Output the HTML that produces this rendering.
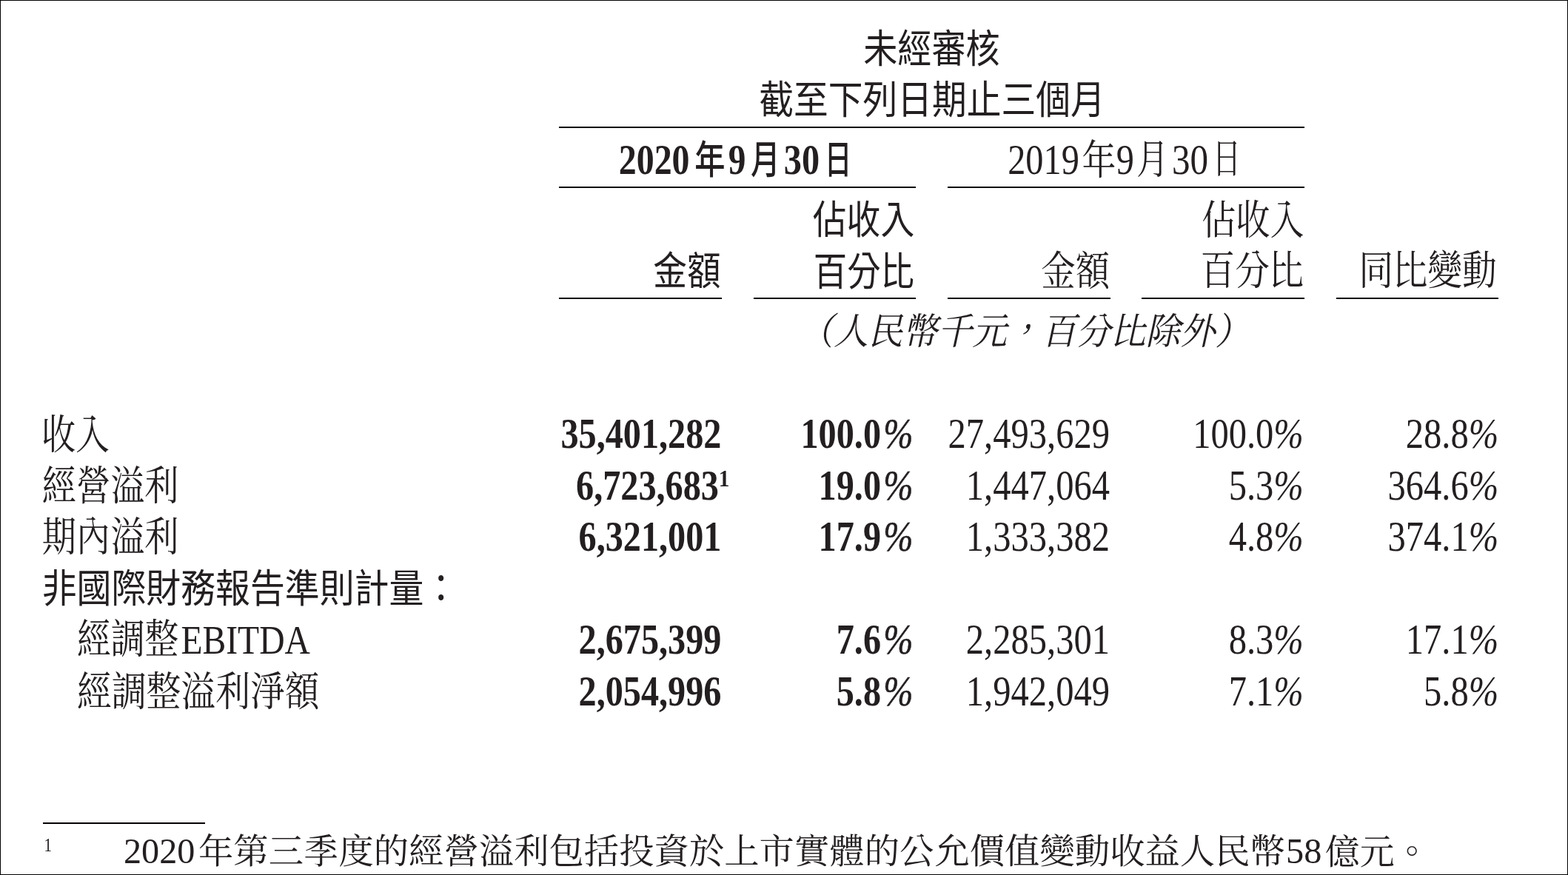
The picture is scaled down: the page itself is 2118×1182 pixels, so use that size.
<!DOCTYPE html>
<html lang="zh-Hant"><head><meta charset="utf-8"><title>未經審核 截至下列日期止三個月</title>
<style>
html,body{margin:0;padding:0;background:#fff;width:2118px;height:1182px;overflow:hidden}
svg{display:block}
text{fill:#231f20}
</style></head><body>
<svg width="2118" height="1182" viewBox="0 0 2118 1182">
<rect x="0" y="0" width="2118" height="1182" fill="#fff"/>
<rect x="755" y="171" width="1007" height="2" fill="#050304"/>
<rect x="755" y="252" width="482" height="2" fill="#050304"/>
<rect x="1280" y="252" width="482" height="2" fill="#050304"/>
<rect x="755" y="402" width="220" height="2" fill="#050304"/>
<rect x="1018" y="402" width="219" height="2" fill="#050304"/>
<rect x="1280" y="402" width="220" height="2" fill="#050304"/>
<rect x="1542" y="402" width="220" height="2" fill="#050304"/>
<rect x="1805" y="402" width="219" height="2" fill="#050304"/>
<rect x="58" y="1111" width="219" height="2" fill="#050304"/>
<text transform="translate(1166.26,84.85) scale(0.8702,1)" font-family="'Liberation Sans','Noto Sans CJK TC','Noto Sans CJK SC',sans-serif" font-size="53" font-weight="400">未經審核</text>
<text transform="translate(1025.24,154.00) scale(0.8822,1)" font-family="'Liberation Sans','Noto Sans CJK TC','Noto Sans CJK SC',sans-serif" font-size="53" font-weight="400">截至下列日期止三個月</text>
<text transform="translate(835.73,234.90) scale(0.8333,1)" font-family="'Liberation Serif',serif" font-size="57.5" font-weight="bold">2020</text>
<text transform="translate(938.24,235.15) scale(0.7796,1)" font-family="'Liberation Sans','Noto Sans CJK TC','Noto Sans CJK SC',sans-serif" font-size="53" font-weight="500">年</text>
<text transform="translate(983.65,234.90) scale(0.8240,1)" font-family="'Liberation Serif',serif" font-size="57.5" font-weight="bold">9</text>
<text transform="translate(1014.00,235.35) scale(0.7476,1)" font-family="'Liberation Sans','Noto Sans CJK TC','Noto Sans CJK SC',sans-serif" font-size="53" font-weight="500">月</text>
<text transform="translate(1058.82,234.90) scale(0.8396,1)" font-family="'Liberation Serif',serif" font-size="57.5" font-weight="bold">30</text>
<text transform="translate(1113.78,234.85) scale(0.6917,1)" font-family="'Liberation Sans','Noto Sans CJK TC','Noto Sans CJK SC',sans-serif" font-size="53" font-weight="500">日</text>
<text transform="translate(1361.18,234.90) scale(0.8602,1)" font-family="'Liberation Serif',serif" font-size="56.2" font-weight="normal">2019</text>
<text transform="translate(1461.53,235.30) scale(0.8340,1)" font-family="'Liberation Serif','Noto Serif CJK TC','Noto Serif CJK SC',serif" font-size="55" font-weight="normal">年</text>
<text transform="translate(1507.78,234.90) scale(0.8583,1)" font-family="'Liberation Serif',serif" font-size="56.2" font-weight="normal">9</text>
<text transform="translate(1535.35,234.40) scale(0.7833,1)" font-family="'Liberation Serif','Noto Serif CJK TC','Noto Serif CJK SC',serif" font-size="55" font-weight="normal">月</text>
<text transform="translate(1582.88,234.90) scale(0.8745,1)" font-family="'Liberation Serif',serif" font-size="56.2" font-weight="normal">30</text>
<text transform="translate(1637.63,232.95) scale(0.6971,1)" font-family="'Liberation Serif','Noto Serif CJK TC','Noto Serif CJK SC',serif" font-size="55" font-weight="normal">日</text>
<text transform="translate(882.28,385.00) scale(0.8618,1)" font-family="'Liberation Sans','Noto Sans CJK TC','Noto Sans CJK SC',sans-serif" font-size="53" font-weight="400">金額</text>
<text transform="translate(1097.84,315.65) scale(0.8641,1)" font-family="'Liberation Sans','Noto Sans CJK TC','Noto Sans CJK SC',sans-serif" font-size="53" font-weight="400">佔收入</text>
<text transform="translate(1098.83,385.80) scale(0.8565,1)" font-family="'Liberation Sans','Noto Sans CJK TC','Noto Sans CJK SC',sans-serif" font-size="53" font-weight="400">百分比</text>
<text transform="translate(1406.31,384.80) scale(0.8457,1)" font-family="'Liberation Serif','Noto Serif CJK TC','Noto Serif CJK SC',serif" font-size="55" font-weight="normal">金額</text>
<text transform="translate(1623.22,315.50) scale(0.8391,1)" font-family="'Liberation Serif','Noto Serif CJK TC','Noto Serif CJK SC',serif" font-size="55" font-weight="normal">佔收入</text>
<text transform="translate(1621.62,384.35) scale(0.8459,1)" font-family="'Liberation Serif','Noto Serif CJK TC','Noto Serif CJK SC',serif" font-size="55" font-weight="normal">百分比</text>
<text transform="translate(1835.42,384.40) scale(0.8467,1)" font-family="'Liberation Serif','Noto Serif CJK TC','Noto Serif CJK SC',serif" font-size="55" font-weight="normal">同比變動</text>
<text transform="translate(1079.07,464.75) scale(0.9370,1) skewX(-13)" font-family="'Liberation Serif','Noto Serif CJK TC','Noto Serif CJK SC',serif" font-size="50" font-weight="normal">（人民幣千元，百分比除外）</text>
<text transform="translate(55.95,606.30) scale(0.8375,1)" font-family="'Liberation Serif','Noto Serif CJK TC','Noto Serif CJK SC',serif" font-size="55" font-weight="normal">收入</text>
<text transform="translate(56.82,675.20) scale(0.8395,1)" font-family="'Liberation Serif','Noto Serif CJK TC','Noto Serif CJK SC',serif" font-size="55" font-weight="normal">經營溢利</text>
<text transform="translate(56.82,743.85) scale(0.8395,1)" font-family="'Liberation Serif','Noto Serif CJK TC','Noto Serif CJK SC',serif" font-size="55" font-weight="normal">期內溢利</text>
<text transform="translate(56.75,813.65) scale(0.8846,1)" font-family="'Liberation Sans','Noto Sans CJK TC','Noto Sans CJK SC',sans-serif" font-size="53" font-weight="400">非國際財務報告準則計量：</text>
<text transform="translate(103.94,882.35) scale(0.8323,1)" font-family="'Liberation Serif','Noto Serif CJK TC','Noto Serif CJK SC',serif" font-size="55" font-weight="normal">經調整</text>
<text transform="translate(244.38,883.00) scale(0.8582,1)" font-family="'Liberation Serif',serif" font-size="55.5" font-weight="normal">EBITDA</text>
<text transform="translate(103.90,952.70) scale(0.8513,1)" font-family="'Liberation Serif','Noto Serif CJK TC','Noto Serif CJK SC',serif" font-size="55" font-weight="normal">經調整溢利淨額</text>
<text transform="translate(970.85,656.70) scale(0.9182,1)" font-family="'Liberation Serif',serif" font-size="32" font-weight="bold">1</text>
<text transform="translate(59.61,1150.20) scale(0.8444,1)" font-family="'Liberation Serif',serif" font-size="25" font-weight="normal">1</text>
<text transform="translate(167.01,1166.30) scale(0.9946,1)" font-family="'Liberation Serif',serif" font-size="48.5" font-weight="normal">2020</text>
<text transform="translate(267.98,1166.25) scale(1.0077,1)" font-family="'Liberation Serif','Noto Serif CJK TC','Noto Serif CJK SC',serif" font-size="47" font-weight="normal">年第三季度的經營溢利包括投資於上市實體的公允價值變動收益人民幣</text>
<text transform="translate(1737.11,1166.30) scale(0.9977,1)" font-family="'Liberation Serif',serif" font-size="48.5" font-weight="normal">58</text>
<text transform="translate(1789.90,1166.75) scale(0.9976,1)" font-family="'Liberation Serif','Noto Serif CJK TC','Noto Serif CJK SC',serif" font-size="47" font-weight="normal">億元。</text>
<text transform="translate(974.38,605.00) scale(0.8388,1)" text-anchor="end" font-family="'Liberation Serif',serif" font-size="57.5" font-weight="bold">35,401,282</text>
<text transform="translate(970.88,674.60) scale(0.8388,1)" text-anchor="end" font-family="'Liberation Serif',serif" font-size="57.5" font-weight="bold">6,723,683</text>
<text transform="translate(974.38,744.20) scale(0.8388,1)" text-anchor="end" font-family="'Liberation Serif',serif" font-size="57.5" font-weight="bold">6,321,001</text>
<text transform="translate(974.38,883.40) scale(0.8388,1)" text-anchor="end" font-family="'Liberation Serif',serif" font-size="57.5" font-weight="bold">2,675,399</text>
<text transform="translate(974.38,953.00) scale(0.8388,1)" text-anchor="end" font-family="'Liberation Serif',serif" font-size="57.5" font-weight="bold">2,054,996</text>
<text transform="translate(1233.52,605.00) scale(0.8388,1)" text-anchor="end" font-family="'Liberation Serif',serif" font-size="57.5" font-weight="bold">100.0<tspan dx="4.0" font-style="italic" font-weight="normal" stroke="#231f20" stroke-width="0.6">%</tspan></text>
<text transform="translate(1233.52,674.60) scale(0.8388,1)" text-anchor="end" font-family="'Liberation Serif',serif" font-size="57.5" font-weight="bold">19.0<tspan dx="4.0" font-style="italic" font-weight="normal" stroke="#231f20" stroke-width="0.6">%</tspan></text>
<text transform="translate(1233.52,744.20) scale(0.8388,1)" text-anchor="end" font-family="'Liberation Serif',serif" font-size="57.5" font-weight="bold">17.9<tspan dx="4.0" font-style="italic" font-weight="normal" stroke="#231f20" stroke-width="0.6">%</tspan></text>
<text transform="translate(1233.52,883.40) scale(0.8388,1)" text-anchor="end" font-family="'Liberation Serif',serif" font-size="57.5" font-weight="bold">7.6<tspan dx="4.0" font-style="italic" font-weight="normal" stroke="#231f20" stroke-width="0.6">%</tspan></text>
<text transform="translate(1233.52,953.00) scale(0.8388,1)" text-anchor="end" font-family="'Liberation Serif',serif" font-size="57.5" font-weight="bold">5.8<tspan dx="4.0" font-style="italic" font-weight="normal" stroke="#231f20" stroke-width="0.6">%</tspan></text>
<text transform="translate(1498.93,605.00) scale(0.8637,1)" text-anchor="end" font-family="'Liberation Serif',serif" font-size="56.2" font-weight="normal">27,493,629</text>
<text transform="translate(1498.93,674.60) scale(0.8637,1)" text-anchor="end" font-family="'Liberation Serif',serif" font-size="56.2" font-weight="normal">1,447,064</text>
<text transform="translate(1498.93,744.20) scale(0.8637,1)" text-anchor="end" font-family="'Liberation Serif',serif" font-size="56.2" font-weight="normal">1,333,382</text>
<text transform="translate(1498.93,883.40) scale(0.8637,1)" text-anchor="end" font-family="'Liberation Serif',serif" font-size="56.2" font-weight="normal">2,285,301</text>
<text transform="translate(1498.93,953.00) scale(0.8637,1)" text-anchor="end" font-family="'Liberation Serif',serif" font-size="56.2" font-weight="normal">1,942,049</text>
<text transform="translate(1760.79,605.00) scale(0.8637,1)" text-anchor="end" font-family="'Liberation Serif',serif" font-size="56.2" font-weight="normal">100.0<tspan font-style="italic" font-weight="normal">%</tspan></text>
<text transform="translate(1760.79,674.60) scale(0.8637,1)" text-anchor="end" font-family="'Liberation Serif',serif" font-size="56.2" font-weight="normal">5.3<tspan font-style="italic" font-weight="normal">%</tspan></text>
<text transform="translate(1760.79,744.20) scale(0.8637,1)" text-anchor="end" font-family="'Liberation Serif',serif" font-size="56.2" font-weight="normal">4.8<tspan font-style="italic" font-weight="normal">%</tspan></text>
<text transform="translate(1760.79,883.40) scale(0.8637,1)" text-anchor="end" font-family="'Liberation Serif',serif" font-size="56.2" font-weight="normal">8.3<tspan font-style="italic" font-weight="normal">%</tspan></text>
<text transform="translate(1760.79,953.00) scale(0.8637,1)" text-anchor="end" font-family="'Liberation Serif',serif" font-size="56.2" font-weight="normal">7.1<tspan font-style="italic" font-weight="normal">%</tspan></text>
<text transform="translate(2024.19,605.00) scale(0.8637,1)" text-anchor="end" font-family="'Liberation Serif',serif" font-size="56.2" font-weight="normal">28.8<tspan font-style="italic" font-weight="normal">%</tspan></text>
<text transform="translate(2024.19,674.60) scale(0.8637,1)" text-anchor="end" font-family="'Liberation Serif',serif" font-size="56.2" font-weight="normal">364.6<tspan font-style="italic" font-weight="normal">%</tspan></text>
<text transform="translate(2024.19,744.20) scale(0.8637,1)" text-anchor="end" font-family="'Liberation Serif',serif" font-size="56.2" font-weight="normal">374.1<tspan font-style="italic" font-weight="normal">%</tspan></text>
<text transform="translate(2024.19,883.40) scale(0.8637,1)" text-anchor="end" font-family="'Liberation Serif',serif" font-size="56.2" font-weight="normal">17.1<tspan font-style="italic" font-weight="normal">%</tspan></text>
<text transform="translate(2024.19,953.00) scale(0.8637,1)" text-anchor="end" font-family="'Liberation Serif',serif" font-size="56.2" font-weight="normal">5.8<tspan font-style="italic" font-weight="normal">%</tspan></text>
<rect x="0.5" y="0.5" width="2117" height="1181" fill="none" stroke="#000" stroke-width="1"/>
</svg>
</body></html>
